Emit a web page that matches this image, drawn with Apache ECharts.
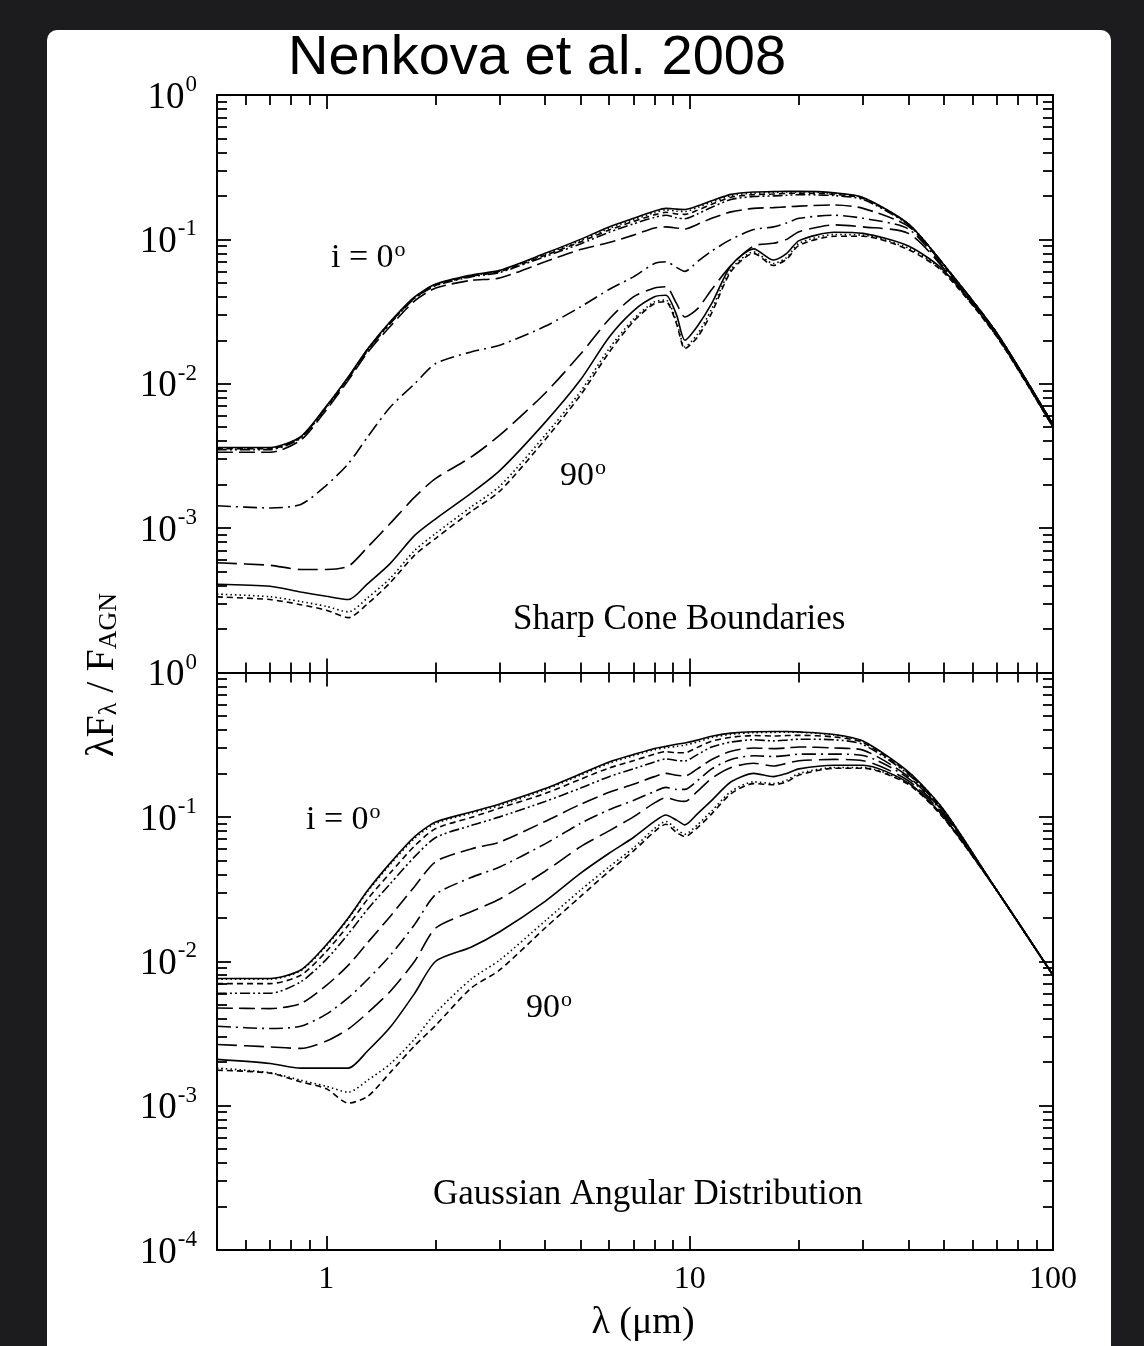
<!DOCTYPE html>
<html><head><meta charset="utf-8">
<script src="https://cdn.jsdelivr.net/npm/echarts@6/dist/echarts.min.js"></script>
<style>html,body{margin:0;padding:0;background:#1c1c1e;} #c{width:1144px;height:1346px;}</style>
</head><body><div id="c"></div>
<script>
// wavelength grid (micron)
const wavelengths = [0.5,0.7,0.85,1.0,1.15,1.3,1.5,1.75,2.0,2.5,3.0,4.0,5.0,6.0,7.0,8.0,8.6,9.2,9.7,10.5,11.5,13,15,17,18.5,20,25,30,40,50,70,100];
const inclinations = [0,10,20,30,40,50,60,70,80,90];

// Sharp cone boundaries (top panel), lambda F_lambda / F_AGN
const sharp_i00 = [3.62e-3,3.62e-3,4.3e-3,7.0e-3,1.12e-2,1.75e-2,2.7e-2,4.0e-2,4.9e-2,5.65e-2,6.1e-2,8.0e-2,0.100,0.122,0.140,0.157,0.164,0.162,0.161,0.170,0.185,0.205,0.213,0.214,0.215,0.215,0.210,0.195,0.128,0.067,0.0225,0.0052];
const sharp_i10 = [3.6e-3,3.6e-3,4.28e-3,6.95e-3,1.11e-2,1.74e-2,2.68e-2,3.97e-2,4.87e-2,5.6e-2,6.05e-2,7.9e-2,0.098,0.119,0.137,0.153,0.160,0.157,0.156,0.166,0.181,0.201,0.209,0.211,0.213,0.213,0.208,0.194,0.128,0.067,0.0225,0.0052];
const sharp_i20 = [3.55e-3,3.55e-3,4.25e-3,6.9e-3,1.1e-2,1.72e-2,2.65e-2,3.93e-2,4.82e-2,5.55e-2,5.98e-2,7.75e-2,0.096,0.116,0.133,0.148,0.154,0.150,0.149,0.159,0.175,0.196,0.204,0.206,0.208,0.209,0.205,0.192,0.127,0.067,0.0225,0.0052];
const sharp_i30 = [3.5e-3,3.5e-3,4.2e-3,6.85e-3,1.09e-2,1.7e-2,2.62e-2,3.9e-2,4.78e-2,5.5e-2,5.9e-2,7.6e-2,0.093,0.112,0.128,0.142,0.147,0.141,0.139,0.150,0.167,0.189,0.198,0.200,0.202,0.204,0.201,0.189,0.126,0.067,0.0225,0.0052];
const sharp_i40 = [3.35e-3,3.35e-3,4.07e-3,6.6e-3,1.06e-2,1.65e-2,2.5e-2,3.75e-2,4.6e-2,5.2e-2,5.4e-2,7.0e-2,0.085,0.095,0.107,0.120,0.122,0.120,0.118,0.127,0.140,0.155,0.164,0.166,0.168,0.170,0.173,0.164,0.123,0.066,0.0223,0.0052];
const sharp_i50 = [1.43e-3,1.38e-3,1.46e-3,1.98e-3,2.8e-3,4.3e-3,6.9e-3,1.0e-2,1.38e-2,1.66e-2,1.85e-2,2.5e-2,3.4e-2,4.5e-2,5.5e-2,6.8e-2,7.0e-2,6.4e-2,6.0e-2,7.0e-2,8.3e-2,0.100,0.117,0.122,0.130,0.140,0.147,0.140,0.118,0.064,0.0222,0.0052];
const sharp_i60 = [5.75e-4,5.53e-4,5.17e-4,5.17e-4,5.45e-4,7.4e-4,1.08e-3,1.64e-3,2.21e-3,3.1e-3,4.4e-3,8.6e-3,1.6e-2,2.8e-2,4.0e-2,4.6e-2,4.7e-2,3.6e-2,2.9e-2,3.3e-2,4.5e-2,6.6e-2,9.0e-2,9.4e-2,0.100,0.113,0.126,0.122,0.110,0.063,0.022,0.0052];
const sharp_i70 = [4.09e-4,3.96e-4,3.61e-4,3.37e-4,3.2e-4,4.13e-4,5.7e-4,8.9e-4,1.16e-3,1.74e-3,2.5e-3,5.4e-3,1.06e-2,2.1e-2,3.2e-2,4.0e-2,4.1e-2,3.0e-2,2.0e-2,2.5e-2,3.6e-2,6.6e-2,8.6e-2,7.2e-2,8.0e-2,9.8e-2,0.112,0.110,0.090,0.061,0.0215,0.0050];
const sharp_i80 = [3.49e-4,3.35e-4,3.1e-4,2.87e-4,2.63e-4,3.3e-4,4.5e-4,7.0e-4,9.2e-4,1.4e-3,1.95e-3,4.4e-3,8.8e-3,1.75e-2,2.8e-2,3.7e-2,3.8e-2,2.7e-2,1.8e-2,2.2e-2,3.3e-2,6.2e-2,8.2e-2,6.8e-2,7.5e-2,9.4e-2,0.108,0.107,0.087,0.060,0.0213,0.0050];
const sharp_i90 = [3.34e-4,3.2e-4,2.95e-4,2.7e-4,2.4e-4,3.0e-4,4.2e-4,6.5e-4,8.5e-4,1.3e-3,1.8e-3,4.1e-3,8.3e-3,1.65e-2,2.7e-2,3.6e-2,3.7e-2,2.6e-2,1.75e-2,2.1e-2,3.1e-2,6.0e-2,8.0e-2,6.6e-2,7.3e-2,9.1e-2,0.105,0.105,0.085,0.059,0.0212,0.0050];

// Gaussian angular distribution (bottom panel)
const gauss_i00 = [7.6e-3,7.6e-3,8.7e-3,1.3e-2,2.0e-2,3.1e-2,4.8e-2,7.3e-2,9.2e-2,0.108,0.123,0.157,0.198,0.240,0.270,0.298,0.308,0.318,0.325,0.340,0.362,0.380,0.389,0.390,0.390,0.388,0.372,0.335,0.205,0.112,0.031,0.008];
const gauss_i10 = [7.5e-3,7.5e-3,8.6e-3,1.28e-2,1.97e-2,3.05e-2,4.7e-2,7.1e-2,9.0e-2,0.106,0.120,0.154,0.194,0.235,0.265,0.292,0.301,0.308,0.314,0.330,0.354,0.373,0.383,0.385,0.386,0.385,0.369,0.333,0.204,0.112,0.031,0.008];
const gauss_i20 = [7.0e-3,7.0e-3,8.0e-3,1.17e-2,1.78e-2,2.7e-2,4.1e-2,6.3e-2,8.3e-2,0.099,0.115,0.145,0.182,0.218,0.245,0.272,0.283,0.278,0.278,0.303,0.335,0.356,0.366,0.363,0.366,0.367,0.358,0.327,0.200,0.110,0.031,0.008];
const gauss_i30 = [6.0e-3,6.0e-3,7.2e-3,1.03e-2,1.55e-2,2.3e-2,3.45e-2,5.3e-2,7.2e-2,0.087,0.100,0.128,0.158,0.190,0.215,0.240,0.252,0.246,0.244,0.270,0.305,0.330,0.342,0.336,0.340,0.345,0.342,0.317,0.197,0.109,0.031,0.008];
const gauss_i40 = [4.75e-3,4.7e-3,5.1e-3,6.8e-3,9.4e-3,1.35e-2,2.05e-2,3.3e-2,4.9e-2,6.0e-2,6.7e-2,9.3e-2,0.122,0.148,0.168,0.190,0.200,0.194,0.192,0.215,0.250,0.285,0.300,0.297,0.300,0.305,0.300,0.290,0.190,0.107,0.031,0.008];
const gauss_i50 = [3.55e-3,3.42e-3,3.55e-3,4.3e-3,5.6e-3,7.5e-3,1.1e-2,1.8e-2,2.9e-2,3.8e-2,4.5e-2,6.5e-2,9.0e-2,0.112,0.130,0.150,0.160,0.155,0.155,0.178,0.215,0.250,0.265,0.262,0.266,0.272,0.272,0.266,0.185,0.105,0.031,0.008];
const gauss_i60 = [2.65e-3,2.55e-3,2.49e-3,2.8e-3,3.4e-3,4.4e-3,6.2e-3,1.0e-2,1.7e-2,2.2e-2,2.7e-2,4.2e-2,6.2e-2,8.0e-2,0.100,0.125,0.136,0.130,0.128,0.150,0.185,0.220,0.235,0.225,0.235,0.245,0.250,0.245,0.178,0.103,0.031,0.008];
const gauss_i70 = [2.09e-3,1.96e-3,1.82e-3,1.82e-3,1.82e-3,2.4e-3,3.5e-3,6.0e-3,1.0e-2,1.25e-2,1.6e-2,2.6e-2,4.06e-2,5.6e-2,7.2e-2,9.3e-2,0.103,0.095,0.088,0.105,0.130,0.175,0.200,0.190,0.200,0.215,0.228,0.228,0.172,0.100,0.031,0.008];
const gauss_i80 = [1.82e-3,1.69e-3,1.5e-3,1.36e-3,1.24e-3,1.5e-3,1.95e-3,2.9e-3,4.4e-3,7.5e-3,1.02e-2,1.9e-2,3.1e-2,4.5e-2,6.1e-2,8.3e-2,9.3e-2,8.2e-2,7.6e-2,8.8e-2,0.110,0.150,0.175,0.170,0.180,0.200,0.220,0.220,0.170,0.099,0.031,0.008];
const gauss_i90 = [1.76e-3,1.68e-3,1.46e-3,1.31e-3,1.04e-3,1.16e-3,1.7e-3,2.6e-3,3.6e-3,6.5e-3,8.7e-3,1.7e-2,2.8e-2,4.2e-2,5.8e-2,7.9e-2,8.9e-2,7.8e-2,7.3e-2,8.4e-2,0.105,0.145,0.170,0.167,0.175,0.195,0.217,0.217,0.168,0.098,0.031,0.008];

const sharpCurves = [sharp_i00,sharp_i10,sharp_i20,sharp_i30,sharp_i40,sharp_i50,sharp_i60,sharp_i70,sharp_i80,sharp_i90];
const gaussCurves = [gauss_i00,gauss_i10,gauss_i20,gauss_i30,gauss_i40,gauss_i50,gauss_i60,gauss_i70,gauss_i80,gauss_i90];

// ticks
const xMajorTicks = [1,10,100];
const xMinorTicks = [0.6,0.7,0.8,0.9,2,3,4,5,6,7,8,9,20,30,40,50,60,70,80,90];
const yTopLabels = [1,0.1,0.01,0.001];
const yBottomLabels = [1,0.1,0.01,0.001,0.0001];
const yDecades = [1,0.1,0.01,0.001,0.0001];
const yMinorTicks = [];
[0.0001,0.001,0.01,0.1].forEach(d => { for (let k=2;k<=9;k++) yMinorTicks.push(+(d*k).toPrecision(3)); });

const dashStyles = ['solid',[1.5,3],[6,4],[10,3,2,3,2,3],[16,6],[14,5,2,5],[20,7],'solid',[1.5,3],[6,4]];

const SERIF = '"Liberation Serif","Times New Roman",serif';
const black = '#000';

function xAxes(gridIndex, showLabels){
  const base = {type:'log', logBase:10, min:0.5, max:100, gridIndex, splitLine:{show:false}, axisLabel:{show:false}};
  const line = {show:true, onZero:false, lineStyle:{color:black, width:2}};
  const arr = [];
  ['bottom','top'].forEach(pos => {
    arr.push(Object.assign({}, base, {position:pos, axisLine:line,
      axisTick:{show:true, inside:true, length:10, customValues:xMinorTicks, lineStyle:{color:black,width:1.8}},
      axisLabel: (showLabels && pos==='bottom') ? {show:true, customValues:xMajorTicks, margin:14, color:black, fontFamily:SERIF, fontSize:32, formatter:(v)=>String(Math.round(v))} : {show:false}
    }));
    arr.push(Object.assign({}, base, {position:pos, axisLine:{show:false},
      axisTick:{show:true, inside:true, length:14, customValues:xMajorTicks, lineStyle:{color:black,width:1.8}}}));
  });
  return arr;
}
function yAxes(gridIndex, min, labels){
  const base = {type:'log', logBase:10, min, max:1, gridIndex, splitLine:{show:false}, axisLabel:{show:false}};
  const line = {show:true, onZero:false, lineStyle:{color:black, width:2}};
  const arr = [];
  ['left','right'].forEach(pos => {
    arr.push(Object.assign({}, base, {position:pos, axisLine:line,
      axisTick:{show:true, inside:true, length:10, customValues:yMinorTicks, lineStyle:{color:black,width:1.8}},
      axisLabel: pos==='left' ? {show:true, customValues:labels, margin:20,
        formatter:(v)=>'{b|10}{s|'+Math.round(Math.log10(v))+'}',
        rich:{b:{fontFamily:SERIF,fontSize:37,color:black,padding:[6,0,0,0]}, s:{fontFamily:SERIF,fontSize:23,color:black,verticalAlign:'top',padding:[0,0,14,1]}}} : {show:false}
    }));
    arr.push(Object.assign({}, base, {position:pos, axisLine:{show:false},
      axisTick:{show:true, inside:true, length:14, customValues:yDecades, lineStyle:{color:black,width:1.8}}}));
  });
  return arr;
}

const xAxisList = xAxes(0,false).concat(xAxes(1,true));   // 0..3 top grid, 4..7 bottom grid
const yAxisList = yAxes(0,0.0001,yTopLabels).concat(yAxes(1,0.0001,yBottomLabels));

const series = [];
sharpCurves.forEach((arr,k) => series.push({
  name:'sharp i='+inclinations[k], type:'line', xAxisIndex:0, yAxisIndex:0, showSymbol:false, smooth:0.25,
  lineStyle:{color:black, width:1.6, type:dashStyles[k]}, data: wavelengths.map((w,i)=>[w,arr[i]]), silent:true, z:5
}));
gaussCurves.forEach((arr,k) => series.push({
  name:'gauss i='+inclinations[k], type:'line', xAxisIndex:4, yAxisIndex:4, showSymbol:false, smooth:0.25,
  lineStyle:{color:black, width:1.6, type:dashStyles[k]}, data: wavelengths.map((w,i)=>[w,arr[i]]), silent:true, z:5
}));

function label(x,y,main,sup,size){
  return {type:'text', x, y, z:20, style:{text:'{a|'+main+'}{s|'+sup+'}', verticalAlign:'middle', align:'left',
    rich:{a:{fontFamily:SERIF,fontSize:size,color:black}, s:{fontFamily:SERIF,fontSize:Math.round(size*0.64),color:black,verticalAlign:'top',padding:[0,0,16,1]}}}};
}

const option = {
  backgroundColor:'#1c1c1e',
  animation:false,
  grid:[{left:217, top:95, width:836, height:577.5}, {left:217, top:672.5, width:836, height:577.5}],
  xAxis: xAxisList,
  yAxis: yAxisList,
  series,
  graphic:[
    {type:'rect', z:-10, silent:true, shape:{x:47,y:30,width:1064,height:1340,r:10}, style:{fill:'#ffffff'}},
    {type:'text', x:537, y:59, z:20, style:{text:'Nenkova et al. 2008', fontFamily:'"Liberation Sans",Arial,sans-serif', fontSize:56, fill:black, align:'center', verticalAlign:'middle'}},
    {type:'text', x:102, y:675, rotation:Math.PI/2, z:20, style:{text:'{a|λF}{s|λ}{a| / F}{s|AGN}', align:'center', verticalAlign:'middle',
      rich:{a:{fontFamily:SERIF,fontSize:40,color:black}, s:{fontFamily:SERIF,fontSize:26,color:black,verticalAlign:'bottom',padding:[12,0,0,0]}}}},
    {type:'text', x:643, y:1323, z:20, style:{text:'λ (μm)', fontFamily:SERIF, fontSize:38, fill:black, align:'center', verticalAlign:'middle'}},
    label(331,258,'i = 0','o',34),
    label(560,476,'90','o',34),
    {type:'text', x:513, y:620, z:20, style:{text:'Sharp Cone Boundaries', fontFamily:SERIF, fontSize:35, fill:black, align:'left', verticalAlign:'middle'}},
    label(306,820,'i = 0','o',34),
    label(526,1008,'90','o',34),
    {type:'text', x:433, y:1195, z:20, style:{text:'Gaussian Angular Distribution', fontFamily:SERIF, fontSize:35, fill:black, align:'left', verticalAlign:'middle'}}
  ]
};
const chart = echarts.init(document.getElementById('c'), null, {renderer:'canvas'});
chart.setOption(option);
</script></body></html>
